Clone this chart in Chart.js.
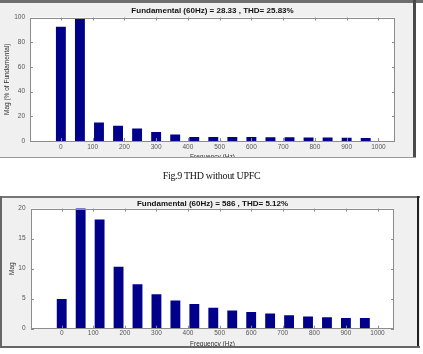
<!DOCTYPE html>
<html>
<head>
<meta charset="utf-8">
<script src="https://cdn.jsdelivr.net/npm/chart.js@4.4.1/dist/chart.umd.min.js"></script>
<style>
  body { margin: 0; width: 423px; height: 354px; background: #fff; position: relative; overflow: hidden; }
  .fig { position: absolute; overflow: hidden; background: #f0f0f0; }
  #fig1 { left: 0; top: 0; width: 416px; height: 158px; }
  #fig2 { left: 0; top: 196px; width: 420px; height: 152px; }
  .fig canvas { position: absolute; left: 0; top: 0; }
  .line { position: absolute; }
  #caption { position: absolute; left: 0; width: 423px; top: 170px; text-align: center;
             font: 10px "Liberation Serif", serif; color: #111; letter-spacing: -0.3px; }
</style>
</head>
<body>
<div class="fig" id="fig1"><canvas id="chart1" width="416" height="166"></canvas></div>
<div class="fig" id="fig2"><canvas id="chart2" width="420" height="160"></canvas></div>

<!-- figure frames -->
<div class="line" style="left:0;top:0;width:423px;height:3px;background:#6e6e6e"></div>
<div class="line" style="left:413px;top:0;width:3px;height:158px;background:#4a4a4a"></div>
<div class="line" style="left:0;top:157px;width:416px;height:1px;background:#9a9a9a"></div>
<div class="line" style="left:0;top:196px;width:420px;height:2px;background:#777"></div>
<div class="line" style="left:0;top:196px;width:2px;height:152px;background:#666"></div>
<div class="line" style="left:417px;top:196px;width:2px;height:152px;background:#222"></div>
<div class="line" style="left:0;top:346px;width:420px;height:2px;background:#666"></div>

<div id="caption">Fig.9 THD without UPFC</div>

<script>
// harmonic frequencies (Hz)
let freqs = [0, 60, 120, 180, 240, 300, 360, 420, 480, 540, 600, 660, 720, 780, 840, 900, 960];
// without UPFC, % of fundamental
let magWithout = [92.5, 99, 15, 12.3, 10.2, 7.3, 5.2, 3.2, 3.2, 3.2, 3.2, 3.1, 3.0, 2.9, 2.8, 2.6, 2.5];
// with UPFC, absolute magnitude (fundamental is off scale)
let magWith = [4.95, 586, 18.2, 10.3, 7.4, 5.75, 4.7, 4.1, 3.5, 3.05, 2.8, 2.55, 2.25, 2.05, 1.9, 1.78, 1.78];

let xTicks = [0, 100, 200, 300, 400, 500, 600, 700, 800, 900, 1000];
let yTicksWithout = [0, 20, 40, 60, 80, 100];
let yTicksWith = [0, 5, 10, 15, 20];

let fontFam = '"Liberation Sans", Arial, sans-serif';

// matlab style axes: white box, inward ticks on all sides
let frame = {
    id: 'frame',
    beforeDraw(chart) {
        let {ctx, chartArea: a} = chart;
        ctx.save();
        ctx.fillStyle = '#fff';
        ctx.fillRect(a.left, a.top, a.right - a.left, a.bottom - a.top);
        ctx.restore();
    },
    afterDatasetsDraw(chart) {
        let {ctx, chartArea: a, scales: {x, y}} = chart;
        ctx.save();
        ctx.strokeStyle = '#8c8c8c';
        ctx.lineWidth = 1;
        ctx.strokeRect(Math.round(a.left) + .5, Math.round(a.top) + .5,
            Math.round(a.right - a.left) - 1, Math.round(a.bottom - a.top) - 1);
        ctx.beginPath();
        x.ticks.forEach(t => {
            let px = Math.round(x.getPixelForValue(t.value)) + .5;
            ctx.moveTo(px, a.bottom); ctx.lineTo(px, a.bottom - 3);
            ctx.moveTo(px, a.top); ctx.lineTo(px, a.top + 3);
        });
        y.ticks.forEach(t => {
            let py = Math.round(y.getPixelForValue(t.value)) + .5;
            ctx.moveTo(a.left, py); ctx.lineTo(a.left + 3, py);
            ctx.moveTo(a.right, py); ctx.lineTo(a.right - 3, py);
        });
        ctx.stroke();
        ctx.restore();
    }
};

function drawSpectrum(id, values, yTicks, yMax, title, yTitle, g) {
    let ctx = document.getElementById(id).getContext('2d');
    new Chart(ctx, {
        type: 'bar',
        data: {
            datasets: [{
                data: freqs.map((f, i) => ({x: f, y: values[i]})),
                backgroundColor: '#00008b',
                borderWidth: 0,
                categoryPercentage: 1,
                barPercentage: 0.52
            }]
        },
        options: {
            responsive: false,
            animation: false,
            layout: {padding: {left: 0, right: g.right, top: 0, bottom: 0}},
            plugins: {
                legend: {display: false},
                tooltip: {enabled: false},
                title: {
                    display: true,
                    text: title,
                    fullSize: false,
                    color: '#111',
                    font: {family: fontFam, size: 8, weight: 'bold'},
                    padding: {top: g.titleTop, bottom: g.titleBottom}
                }
            },
            scales: {
                x: {
                    type: 'linear',
                    min: -45,
                    max: 1000,
                    grid: {display: false, drawTicks: false},
                    border: {display: false},
                    afterBuildTicks: s => { s.ticks = xTicks.map(v => ({value: v})); },
                    afterFit: s => { s.height = g.xHeight; },
                    ticks: {font: {family: fontFam, size: 6.5}, color: '#555', padding: g.xPad,
                            maxRotation: 0, autoSkip: false, callback: v => String(v)},
                    title: {display: true, text: 'Frequency (Hz)', color: '#333',
                            font: {family: fontFam, size: 6.5}, padding: {top: 0, bottom: g.xTitlePad}}
                },
                y: {
                    min: 0,
                    max: yMax,
                    grid: {display: false, drawTicks: false},
                    border: {display: false},
                    afterBuildTicks: s => { s.ticks = yTicks.map(v => ({value: v})); },
                    afterFit: s => { s.width = g.yWidth; },
                    ticks: {font: {family: fontFam, size: 6.5}, color: '#555', padding: g.yPad,
                            callback: v => String(v)},
                    title: {display: true, text: yTitle, color: '#333',
                            font: {family: fontFam, size: 6.5}, padding: {top: g.yTitlePad, bottom: 0}}
                }
            }
        },
        plugins: [frame]
    });
}

drawSpectrum('chart1', magWithout, yTicksWithout, 100,
    'Fundamental (60Hz) = 28.33 , THD= 25.83%', 'Mag (% of Fundamental)',
    {right: 21, titleTop: 5.5, titleBottom: 2.4, xHeight: 25, xPad: 2.5, xTitlePad: 5, yWidth: 30, yPad: 5, yTitlePad: 3.4});

drawSpectrum('chart2', magWith, yTicksWith, 20,
    'Fundamental (60Hz) = 586 , THD= 5.12%', 'Mag',
    {right: 26, titleTop: 3, titleBottom: 0, xHeight: 27.3, xPad: 1, xTitlePad: 8, yWidth: 31, yPad: 5.4, yTitlePad: 8.7});
</script>
</body>
</html>
